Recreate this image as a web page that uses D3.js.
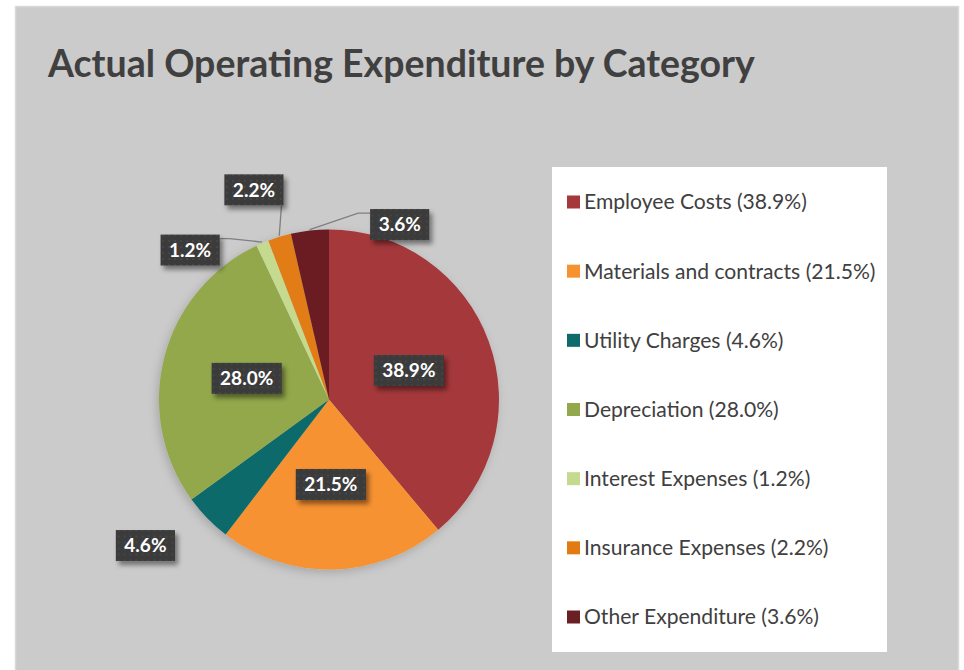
<!DOCTYPE html>
<html lang="en">
<head>
<meta charset="UTF-8">
<title>Actual Operating Expenditure by Category</title>
<script src="https://cdnjs.cloudflare.com/ajax/libs/d3/7.8.5/d3.min.js"></script>
<style>
  body { margin: 0; padding: 0; background: #fff; }
  svg { display: block; font-family: Lato, "Open Sans", "DejaVu Sans", sans-serif; }
</style>
</head>
<body>
<div id="chart"></div>
<script>
  // data
  const categories = ["Employee Costs", "Materials and contracts", "Utility Charges", "Depreciation",
                      "Interest Expenses", "Insurance Expenses", "Other Expenditure"];
  const shares = [38.9, 21.5, 4.6, 28.0, 1.2, 2.2, 3.6];
  const sliceColors = ["#a5383b", "#f79230", "#0f6b6b", "#93a84c", "#c5da8f", "#e27c12", "#6a1f24"];

  // label placement (polar: radius factor, angle in degrees from 12 o'clock), leader style
  const labelPlace = [
    { r: 0.50, a: null, leader: null },
    { r: 0.50, a: null, leader: null },
    { r: 1.38, a: 231.5, leader: null },
    { r: 0.50, a: null, leader: null },
    { r: 1.20, a: 317.1, leader: "right" },
    { r: 1.31, a: 340.3, leader: "bottom" },
    { r: 1.11, a: 22.0, leader: "left" }
  ];

  const W = 964, H = 670;
  const cx = 329, cy = 399.5, R = 170;

  const svg = d3.select("#chart").append("svg").attr("width", W).attr("height", H);
  const defs = svg.append("defs");

  // dotted texture for the label boxes
  const pat = defs.append("pattern").attr("id", "dots")
      .attr("width", 6).attr("height", 6).attr("patternUnits", "userSpaceOnUse");
  pat.append("rect").attr("width", 6).attr("height", 6).attr("fill", "#3a3a3a");
  pat.append("circle").attr("cx", 3).attr("cy", 3).attr("r", 0.8).attr("fill", "#555");

  const boxShadow = defs.append("filter").attr("id", "boxShadow")
      .attr("x", "-30%").attr("y", "-30%").attr("width", "170%").attr("height", "180%");
  boxShadow.append("feDropShadow").attr("dx", 3).attr("dy", 4).attr("stdDeviation", 2.5)
      .attr("flood-color", "#000").attr("flood-opacity", 0.45);

  const pieShadow = defs.append("filter").attr("id", "pieShadow")
      .attr("x", "-20%").attr("y", "-20%").attr("width", "140%").attr("height", "140%");
  pieShadow.append("feDropShadow").attr("dx", -2).attr("dy", 3).attr("stdDeviation", 5)
      .attr("flood-color", "#000").attr("flood-opacity", 0.18);

  // chart area
  svg.append("rect").attr("x", 15.5).attr("y", 6.5).attr("width", 943).attr("height", 700)
      .attr("fill", "#cbcbcb").attr("stroke", "#d9d9d9").attr("stroke-width", 1.5);

  // title, fitted to the reference width
  const title = svg.append("text").attr("x", 48).attr("y", 77)
      .attr("font-size", 34).attr("font-weight", "bold").attr("fill", "#404040")
      .text("Actual Operating Expenditure by Category");
  const tw = title.node().getComputedTextLength();
  title.attr("font-size", 34 * 707 / tw);

  // pie
  const pie = d3.pie().sort(null).value(d => d);
  const arcs = pie(shares);
  const arc = d3.arc().innerRadius(0).outerRadius(R);

  const g = svg.append("g").attr("transform", `translate(${cx},${cy})`);
  g.append("g").attr("filter", "url(#pieShadow)")
    .selectAll("path").data(arcs).enter().append("path")
      .attr("d", arc)
      .attr("fill", (d, i) => sliceColors[i]);

  // labels
  const polar = (r, deg) => {
    const t = deg * Math.PI / 180;
    return [r * Math.sin(t), -r * Math.cos(t)];
  };
  const fmt = d3.format(".1f");
  const labels = g.append("g");

  arcs.forEach((d, i) => {
    const p = labelPlace[i];
    const mid = (d.startAngle + d.endAngle) / 2 * 180 / Math.PI;
    const [lx, ly] = p.a === null ? arc.centroid({ startAngle: d.startAngle, endAngle: d.endAngle, innerRadius: 0, outerRadius: R * p.r * 2 })
                                   : polar(R * p.r, p.a);
    const txt = fmt(shares[i]) + "%";

    const lg = labels.append("g").attr("transform", `translate(${lx},${ly})`);
    const t = lg.append("text").attr("text-anchor", "middle").attr("dy", "0.36em")
        .attr("font-size", 19).attr("font-weight", "bold").attr("fill", "#fff").text(txt);
    const bw = t.node().getComputedTextLength() + 17, bh = 31;
    lg.insert("rect", "text").attr("x", -bw / 2).attr("y", -bh / 2)
        .attr("width", bw).attr("height", bh)
        .attr("fill", "url(#dots)").attr("filter", "url(#boxShadow)");

    if (p.leader) {
      const [px, py] = polar(R + 1, mid);
      let pts;
      if (p.leader === "right") {
        const ex = lx + bw / 2, ey = ly - bh / 2 + 4;
        pts = [[px, py], [ex + 10, ey], [ex, ey]];
      } else if (p.leader === "left") {
        const ex = lx - bw / 2, ey = ly - bh / 2 + 4;
        pts = [[px, py], [ex - 12, ey], [ex, ey]];
      } else {
        const ex = lx + bw / 2 - 2, ey = ly + bh / 2;
        pts = [[px, py], [ex, ey]];
      }
      labels.insert("path", "g").attr("d", d3.line()(pts))
          .attr("fill", "none").attr("stroke", "#7f7f7f").attr("stroke-width", 1.3);
    }
  });

  // legend
  svg.append("rect").attr("x", 552).attr("y", 167).attr("width", 335).attr("height", 485)
      .attr("fill", "#fff");

  const ly = d3.scalePoint().domain(categories).range([202, 617]);
  const leg = svg.append("g").selectAll("g").data(categories).enter().append("g")
      .attr("transform", d => `translate(567,${ly(d)})`);
  leg.append("rect").attr("x", 0).attr("y", -6.5).attr("width", 13).attr("height", 13)
      .attr("fill", (d, i) => sliceColors[i]);
  const legText = leg.append("text").attr("x", 17).attr("dy", "0.35em")
      .attr("font-size", 19).attr("fill", "#404040")
      .text((d, i) => `${d} (${fmt(shares[i])}%)`);
  const lw = legText.filter((d, i) => i === 0).node().getComputedTextLength();
  legText.attr("font-size", 19 * 223 / lw);
</script>
</body>
</html>
